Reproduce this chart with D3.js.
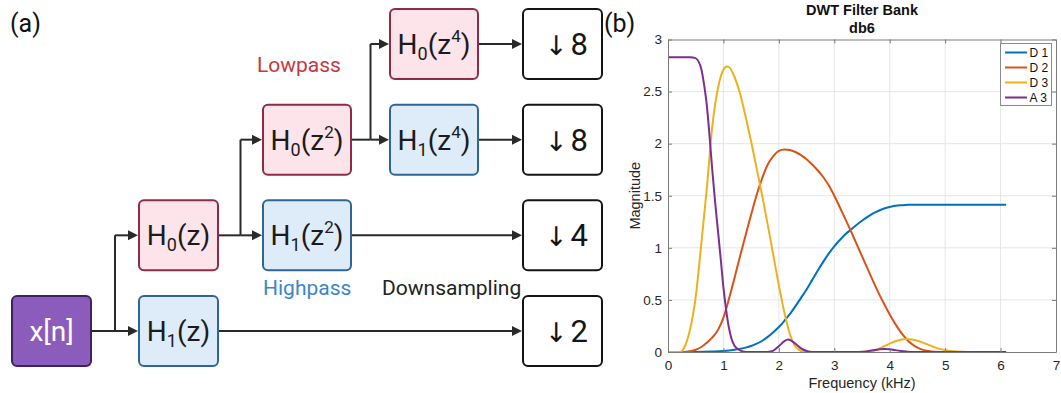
<!DOCTYPE html>
<html>
<head>
<meta charset="utf-8">
<script src="https://cdn.jsdelivr.net/npm/d3@7"></script>
<style>
  html, body { margin: 0; padding: 0; background: #fff; }
  svg { display: block; }
</style>
</head>
<body>
<svg id="fig" width="1061" height="393"></svg>
<script>
// ---------- filter-bank magnitude responses (frequency in kHz, magnitude) ----------
const seriesNames = ["D 1", "D 2", "D 3", "A 3"];

const d1 = [[0,0],[0.5,0],[0.8,0.004],[1.0,0.01],[1.2,0.022],[1.4,0.042],[1.5,0.058],[1.6,0.08],
  [1.7,0.108],[1.8,0.145],[1.9,0.19],[2.0,0.24],[2.1,0.3],[2.2,0.365],[2.3,0.44],[2.4,0.52],
  [2.5,0.6],[2.6,0.69],[2.7,0.78],[2.8,0.865],[2.9,0.945],[3.0,1.015],[3.1,1.075],[3.2,1.13],
  [3.3,1.175],[3.4,1.22],[3.5,1.26],[3.6,1.297],[3.7,1.33],[3.8,1.356],[3.9,1.377],[4.0,1.392],
  [4.1,1.403],[4.2,1.409],[4.3,1.412],[4.4,1.414],[4.6,1.414],[5.0,1.414],[5.5,1.414],[6.1,1.414]];

const d2 = [[0,0],[0.3,0],[0.4,0.008],[0.5,0.022],[0.6,0.048],[0.7,0.088],[0.8,0.14],[0.9,0.21],
  [1.0,0.33],[1.1,0.51],[1.2,0.71],[1.3,0.92],[1.4,1.12],[1.5,1.32],[1.6,1.51],[1.7,1.67],
  [1.8,1.8],[1.9,1.88],[2.0,1.93],[2.1,1.945],[2.2,1.94],[2.3,1.92],[2.4,1.89],[2.5,1.85],
  [2.6,1.8],[2.7,1.745],[2.8,1.68],[2.9,1.6],[3.0,1.5],[3.1,1.39],[3.2,1.275],[3.3,1.16],
  [3.4,1.04],[3.5,0.92],[3.6,0.8],[3.7,0.68],[3.8,0.565],[3.9,0.46],[4.0,0.36],[4.1,0.27],
  [4.2,0.19],[4.3,0.125],[4.4,0.076],[4.5,0.042],[4.6,0.02],[4.7,0.009],[4.8,0.003],[5.0,0],[6.1,0]];

const d3s = [[0,0],[0.2,0],[0.25,0.01],[0.3,0.05],[0.4,0.22],[0.5,0.53],[0.6,1.03],[0.7,1.57],
  [0.8,2.17],[0.9,2.53],[1.0,2.71],[1.06,2.74],[1.1,2.735],[1.2,2.64],[1.3,2.48],[1.4,2.26],
  [1.5,2.02],[1.6,1.76],[1.7,1.5],[1.8,1.22],[1.9,0.93],[2.0,0.64],[2.1,0.38],[2.2,0.17],
  [2.3,0.05],[2.4,0.01],[2.5,0],[3.5,0],[3.6,0.004],[3.7,0.012],[3.8,0.03],[3.9,0.055],
  [4.0,0.08],[4.1,0.103],[4.2,0.118],[4.3,0.125],[4.4,0.121],[4.5,0.108],[4.6,0.09],
  [4.7,0.068],[4.8,0.048],[4.9,0.03],[5.0,0.018],[5.1,0.009],[5.2,0.004],[5.4,0],[6.1,0]];

const a3 = [[0,2.83],[0.2,2.83],[0.4,2.83],[0.45,2.828],[0.5,2.82],[0.55,2.79],[0.6,2.72],
  [0.65,2.57],[0.7,2.37],[0.75,2.07],[0.8,1.74],[0.85,1.44],[0.9,1.17],[0.95,0.9],[1.0,0.62],
  [1.05,0.4],[1.1,0.23],[1.15,0.12],[1.2,0.06],[1.3,0.015],[1.4,0],[1.8,0],[1.85,0.004],
  [1.9,0.013],[2.0,0.055],[2.1,0.105],[2.17,0.12],[2.25,0.1],[2.3,0.08],[2.4,0.035],
  [2.5,0.01],[2.6,0],[3.4,0],[3.5,0.002],[3.6,0.008],[3.7,0.016],[3.8,0.025],[3.9,0.03],
  [4.0,0.027],[4.1,0.018],[4.2,0.01],[4.3,0.004],[4.4,0],[6.1,0]];

const xTicks = [0, 1, 2, 3, 4, 5, 6, 7];
const yTicks = [0, 0.5, 1, 1.5, 2, 2.5, 3];

// ---------- filter-bank block diagram ----------
// each block: column, row, kind, and label pieces (base, subscript, argument, superscript)
const blocks = [
  {id: "x",   col: 0, row: 3, kind: "input", text: "x[n]"},
  {id: "h0",  col: 1, row: 2, kind: "low",  base: "H", sub: "0", arg: "z", sup: ""},
  {id: "h1",  col: 1, row: 3, kind: "high", base: "H", sub: "1", arg: "z", sup: ""},
  {id: "h00", col: 2, row: 1, kind: "low",  base: "H", sub: "0", arg: "z", sup: "2"},
  {id: "h01", col: 2, row: 2, kind: "high", base: "H", sub: "1", arg: "z", sup: "2"},
  {id: "h000",col: 3, row: 0, kind: "low",  base: "H", sub: "0", arg: "z", sup: "4"},
  {id: "h001",col: 3, row: 1, kind: "high", base: "H", sub: "1", arg: "z", sup: "4"},
  {id: "ds0", col: 4, row: 0, kind: "down", factor: "8"},
  {id: "ds1", col: 4, row: 1, kind: "down", factor: "8"},
  {id: "ds2", col: 4, row: 2, kind: "down", factor: "4"},
  {id: "ds3", col: 4, row: 3, kind: "down", factor: "2"}
];
// splits: one source feeding two targets through a shared junction
const splits = [
  {from: "x",   to: ["h0", "h1"]},
  {from: "h0",  to: ["h00", "h01"]},
  {from: "h00", to: ["h000", "h001"]}
];
const links = [
  {from: "h000", to: "ds0"},
  {from: "h001", to: "ds1"},
  {from: "h01",  to: "ds2"},
  {from: "h1",   to: "ds3"}
];
const captions = [
  {text: "Lowpass", kind: "low"},
  {text: "Highpass", kind: "high"},
  {text: "Downsampling", kind: "down"}
];

const svg = d3.select("#fig");
const diagramFont = "Roboto, 'Open Sans', sans-serif";
const chartFont = "'Liberation Sans', Arial, Helvetica, sans-serif";

// layout of the diagram grid
const colLeft = d3.scaleOrdinal().domain([0, 1, 2, 3, 4]).range([11, 138, 262, 389, 522]);
const colWidth = d3.scaleOrdinal().domain([0, 1, 2, 3, 4]).range([81, 81, 90, 90, 81]);
const rowMid = d3.scaleLinear().domain([0, 3]).range([44, 331]);
const boxH = 72;

const style = {
  input: {fill: "#8b5cbb", stroke: "#3e2260", text: "#ffffff"},
  low:   {fill: "#fce4ea", stroke: "#8f2b4a", text: "#1b1b1b"},
  high:  {fill: "#deebf8", stroke: "#2e6696", text: "#1b1b1b"},
  down:  {fill: "#ffffff", stroke: "#151515", text: "#151515"}
};
const captionStyle = {
  low:  {x: 257, y: 72,  fill: "#c6383d"},
  high: {x: 263, y: 295, fill: "#3a86c9"},
  down: {x: 382, y: 295, fill: "#222222"}
};

const byId = {};
blocks.forEach(b => {
  b.x0 = colLeft(b.col);
  b.x1 = b.x0 + colWidth(b.col);
  b.ym = rowMid(b.row);
  byId[b.id] = b;
});

const ink = "#2a2a2a";
const diag = svg.append("g").attr("class", "diagram");

// arrowhead drawn as a small triangle with its tip at (x, y)
function arrowHead(g, x, y) {
  g.append("path")
    .attr("d", `M${x},${y} L${x - 10},${y - 5} L${x - 10},${y + 5} Z`)
    .attr("fill", ink);
}

const wires = diag.append("g");
splits.forEach(s => {
  const src = byId[s.from];
  const t = s.to.map(id => byId[id]);
  const jx = (src.x1 + t[0].x0) / 2;
  wires.append("line").attr("x1", src.x1).attr("y1", src.ym).attr("x2", jx).attr("y2", src.ym)
    .attr("stroke", ink).attr("stroke-width", 2);
  const ys = t.map(d => d.ym).concat([src.ym]);
  wires.append("line").attr("x1", jx).attr("x2", jx)
    .attr("y1", d3.min(ys)).attr("y2", d3.max(ys))
    .attr("stroke", ink).attr("stroke-width", 2);
  t.forEach(d => {
    wires.append("line").attr("x1", jx).attr("y1", d.ym).attr("x2", d.x0 - 8).attr("y2", d.ym)
      .attr("stroke", ink).attr("stroke-width", 2);
    arrowHead(wires, d.x0, d.ym);
  });
});
links.forEach(l => {
  const a = byId[l.from], b = byId[l.to];
  wires.append("line").attr("x1", a.x1).attr("y1", a.ym).attr("x2", b.x0 - 8).attr("y2", b.ym)
    .attr("stroke", ink).attr("stroke-width", 2);
  arrowHead(wires, b.x0, b.ym);
});

const boxG = diag.selectAll("g.block").data(blocks).join("g").attr("class", "block");
boxG.append("rect")
  .attr("x", d => d.x0 + 1).attr("y", d => d.ym - boxH / 2 + 1)
  .attr("width", d => d.x1 - d.x0 - 2).attr("height", boxH - 2)
  .attr("rx", 5).attr("ry", 5)
  .attr("fill", d => style[d.kind].fill)
  .attr("stroke", d => style[d.kind].stroke)
  .attr("stroke-width", 2);

boxG.each(function(d) {
  const g = d3.select(this);
  const cx = (d.x0 + d.x1) / 2;
  if (d.kind === "down") {
    // down-arrow glyph plus decimation factor
    const t = g.append("text")
      .attr("x", cx + 4).attr("y", d.ym + 11)
      .attr("text-anchor", "middle")
      .attr("fill", style[d.kind].text);
    t.append("tspan").attr("font-family", "'DejaVu Sans', sans-serif")
      .attr("font-size", 27).text("\u2193");
    t.append("tspan").attr("dx", 3).attr("font-family", diagramFont)
      .attr("font-size", 31).text(d.factor);
    return;
  }
  const t = g.append("text")
    .attr("x", cx)
    .attr("y", d.ym + 10)
    .attr("text-anchor", "middle")
    .attr("font-family", diagramFont)
    .attr("fill", style[d.kind].text)
    .attr("font-size", 28);
  if (d.text) {
    t.text(d.text);
  } else {
    t.append("tspan").text(d.base);
    t.append("tspan").attr("font-size", 18).attr("dy", 6).text(d.sub);
    t.append("tspan").attr("dy", -6).text("(" + d.arg);
    if (d.sup) {
      t.append("tspan").attr("font-size", 17).attr("dy", -12).text(d.sup);
      t.append("tspan").attr("dy", 12).text(")");
    } else {
      t.append("tspan").text(")");
    }
  }
});

diag.selectAll("text.caption").data(captions).join("text")
  .attr("class", "caption")
  .attr("x", d => captionStyle[d.kind].x)
  .attr("y", d => captionStyle[d.kind].y)
  .attr("font-family", diagramFont)
  .attr("font-size", 21)
  .attr("fill", d => captionStyle[d.kind].fill)
  .text(d => d.text);

svg.append("text").attr("x", 10).attr("y", 32)
  .attr("font-family", diagramFont).attr("font-size", 25).attr("fill", "#111").text("(a)");
svg.append("text").attr("x", 604).attr("y", 32)
  .attr("font-family", diagramFont).attr("font-size", 25).attr("fill", "#111").text("(b)");

// ---------- magnitude response plot ----------
const x = d3.scaleLinear().domain([0, 7]).range([668, 1056]);
const y = d3.scaleLinear().domain([0, 3]).range([352, 39.5]);
const colors = ["#0072BD", "#D95319", "#EDB120", "#7E2F8E"];
const series = [d1, d2, d3s, a3];

const plot = svg.append("g").attr("class", "plot");

// grid
plot.append("g").selectAll("line").data(xTicks.slice(1, -1)).join("line")
  .attr("x1", d => x(d)).attr("x2", d => x(d)).attr("y1", y(0)).attr("y2", y(3))
  .attr("stroke", "#e6e6e6").attr("stroke-width", 1);
plot.append("g").selectAll("line").data(yTicks.slice(1, -1)).join("line")
  .attr("x1", x(0)).attr("x2", x(7)).attr("y1", d => y(d)).attr("y2", d => y(d))
  .attr("stroke", "#e6e6e6").attr("stroke-width", 1);

// curves
const line = d3.line().x(d => x(d[0])).y(d => y(d[1])).curve(d3.curveMonotoneX);
plot.append("g").selectAll("path").data(series).join("path")
  .attr("d", line)
  .attr("fill", "none")
  .attr("stroke", (d, i) => colors[i])
  .attr("stroke-width", 2)
  .attr("stroke-linejoin", "round");

// axes with inward ticks on all four sides
const axisColor = "#7a7a7a";
const fmt = d3.format("~g");
const axBottom = plot.append("g").attr("transform", `translate(0,${y(0)})`)
  .call(d3.axisBottom(x).tickValues(xTicks).tickFormat(fmt)
    .tickSizeInner(-4).tickSizeOuter(0).tickPadding(8));
const axLeft = plot.append("g").attr("transform", `translate(${x(0)},0)`)
  .call(d3.axisLeft(y).tickValues(yTicks).tickFormat(fmt)
    .tickSizeInner(-4).tickSizeOuter(0).tickPadding(6));
const axTop = plot.append("g").attr("transform", `translate(0,${y(3)})`)
  .call(d3.axisTop(x).tickValues(xTicks).tickSizeInner(-4).tickSizeOuter(0).tickFormat(""));
const axRight = plot.append("g").attr("transform", `translate(${x(7)},0)`)
  .call(d3.axisRight(y).tickValues(yTicks).tickSizeInner(-4).tickSizeOuter(0).tickFormat(""));
[axBottom, axLeft, axTop, axRight].forEach(g => {
  g.select(".domain").attr("stroke", axisColor);
  g.selectAll(".tick line").attr("stroke", axisColor);
  g.selectAll("text").attr("font-family", chartFont).attr("font-size", 13.5).attr("fill", "#262626");
});

plot.append("text").attr("x", x(3.5)).attr("y", 388)
  .attr("text-anchor", "middle").attr("font-family", chartFont).attr("font-size", 14.5)
  .attr("fill", "#262626").text("Frequency (kHz)");
plot.append("text").attr("transform", `translate(640,${(y(0) + y(3)) / 2}) rotate(-90)`)
  .attr("text-anchor", "middle").attr("font-family", chartFont).attr("font-size", 14.5)
  .attr("fill", "#262626").text("Magnitude");
plot.append("text").attr("x", x(3.5)).attr("y", 15)
  .attr("text-anchor", "middle").attr("font-family", chartFont).attr("font-size", 14.5)
  .attr("font-weight", "bold").attr("fill", "#111").text("DWT Filter Bank");
plot.append("text").attr("x", x(3.5)).attr("y", 33)
  .attr("text-anchor", "middle").attr("font-family", chartFont).attr("font-size", 14.5)
  .attr("font-weight", "bold").attr("fill", "#111").text("db6");

// legend
const lg = plot.append("g");
lg.append("rect").attr("x", 1000.5).attr("y", 43.5).attr("width", 51).attr("height", 62)
  .attr("fill", "#fff").attr("stroke", "#8a8a8a").attr("stroke-width", 1);
const rowsY = d3.scalePoint().domain(seriesNames).range([52.5, 97.5]);
seriesNames.forEach((n, i) => {
  lg.append("line").attr("x1", 1005).attr("x2", 1027)
    .attr("y1", rowsY(n)).attr("y2", rowsY(n))
    .attr("stroke", colors[i]).attr("stroke-width", 2);
  lg.append("text").attr("x", 1029.5).attr("y", rowsY(n) + 4.5)
    .attr("font-family", chartFont).attr("font-size", 12).attr("fill", "#111").text(n);
});
</script>
</body>
</html>
